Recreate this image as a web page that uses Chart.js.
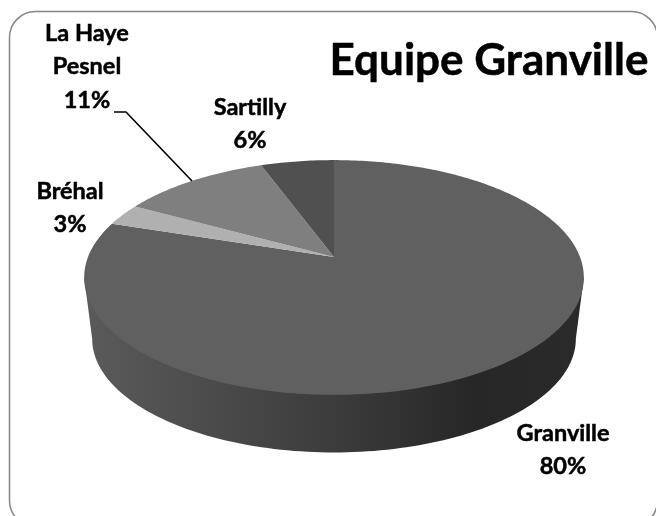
<!DOCTYPE html>
<html>
<head>
<meta charset="utf-8">
<style>
  html, body { margin: 0; padding: 0; background: #fff; overflow: hidden; }
  #wrap { width: 656px; height: 516px; position: relative; }
</style>
<script src="https://cdn.jsdelivr.net/npm/chart.js@4/dist/chart.umd.min.js"></script>
</head>
<body>
<div id="wrap"><canvas id="chart" width="656" height="516"></canvas></div>
<script>
var titleText = 'Equipe Granville';
var categories = ['Granville', 'Bréhal', 'La Haye Pesnel', 'Sartilly'];
var values = [80, 3, 11.4, 5.6];
var sliceColors = ['#606060', '#b0b0b0', '#7f7f7f', '#505050'];

// label lines and where they sit, same order as categories
var labelLines = [['Granville'], ['Bréhal'], ['La Haye', 'Pesnel'], ['Sartilly']];
var labelAnchors = [[563, 433], [70, 191], [87, 33], [250, 107]];

var FONT = 'Lato, Carlito, sans-serif';
var TILT = 0.4626;        // vertical squash of the disc
var PERSP = -0.1745;      // perspective, front of the disc is closer
var DEPTH_DY = 62;        // lower face offset
var DEPTH_SCALE = 0.968;  // lower face is a bit further away

// circle -> screen, v runs down the screen
function project(arc, u, v, dy, s) {
    var d = 1 + PERSP * v;
    return {
        x: arc.x + s * arc.outerRadius * u / d,
        y: arc.y + dy + s * arc.outerRadius * TILT * v / d
    };
}

function drawSide(ctx, arc) {
    var a0 = Math.acos(-PERSP);
    var grad = ctx.createLinearGradient(arc.x - arc.outerRadius, 0, arc.x + arc.outerRadius, 0);
    grad.addColorStop(0, '#5a5a5a');
    grad.addColorStop(0.5, '#3c3c3c');
    grad.addColorStop(0.78, '#272727');
    grad.addColorStop(1, '#2a2a2a');
    ctx.beginPath();
    var i, t, p;
    for (i = 0; i <= 120; i++) {
        // right tangent round the front to the left tangent
        t = -a0 + (2 * a0) * i / 120;
        p = project(arc, -Math.sin(t), Math.cos(t), DEPTH_DY, DEPTH_SCALE);
        if (i === 0) ctx.moveTo(p.x, p.y); else ctx.lineTo(p.x, p.y);
    }
    // up to the top face tangents, the chord between them ends up under the top face
    p = project(arc, -Math.sin(a0), Math.cos(a0), 0, 1);
    ctx.lineTo(p.x, p.y);
    p = project(arc, Math.sin(a0), Math.cos(a0), 0, 1);
    ctx.lineTo(p.x, p.y);
    ctx.closePath();
    ctx.fillStyle = grad;
    ctx.fill();
}

function drawSlice(ctx, arc, color) {
    var steps = Math.max(4, Math.ceil((arc.endAngle - arc.startAngle) * 60));
    ctx.beginPath();
    ctx.moveTo(arc.x, arc.y);
    for (var i = 0; i <= steps; i++) {
        var t = arc.startAngle + (arc.endAngle - arc.startAngle) * i / steps;
        var p = project(arc, Math.cos(t), Math.sin(t), 0, 1);
        ctx.lineTo(p.x, p.y);
    }
    ctx.closePath();
    ctx.fillStyle = color;
    ctx.fill();
}

function boldText(ctx, text, x, y) {
    ctx.fillText(text, x, y);
    ctx.strokeText(text, x, y);
}

var pie3d = {
    id: 'pie3d',
    beforeDraw: function(chart) {
        var ctx = chart.ctx;
        ctx.save();
        ctx.beginPath();
        ctx.roundRect(9.5, 11.5, 648, 515, 26);
        ctx.strokeStyle = '#868686';
        ctx.lineWidth = 1.5;
        ctx.stroke();
        ctx.restore();
    },
    // the library has no tilted pie, so draw its arcs ourselves
    beforeDatasetsDraw: function(chart) {
        var ctx = chart.ctx;
        var arcs = chart.getDatasetMeta(0).data;
        ctx.save();
        drawSide(ctx, arcs[0]);
        arcs.forEach(function(arc, i) {
            drawSlice(ctx, arc, sliceColors[i]);
        });
        ctx.restore();
        return false;
    },
    afterDraw: function(chart) {
        var ctx = chart.ctx;
        ctx.save();

        // leader for La Haye Pesnel
        ctx.beginPath();
        ctx.moveTo(114, 112);
        ctx.lineTo(126, 112);
        ctx.lineTo(192, 181);
        ctx.strokeStyle = '#000';
        ctx.lineWidth = 1.6;
        ctx.stroke();

        ctx.fillStyle = '#000';
        ctx.lineWidth = 0.5;
        ctx.textAlign = 'center';
        ctx.textBaseline = 'middle';
        ctx.font = 'bold 44px ' + FONT;
        boldText(ctx, titleText, 489, 61);

        ctx.font = 'bold 23.5px ' + FONT;
        categories.forEach(function(c, i) {
            var lines = labelLines[i].concat(Math.round(values[i]) + '%');
            lines.forEach(function(line, j) {
                boldText(ctx, line, labelAnchors[i][0], labelAnchors[i][1] + j * 33.5);
            });
        });
        ctx.restore();
    }
};

var ctx = document.getElementById('chart').getContext('2d');
new Chart(ctx, {
    type: 'pie',
    data: {
        labels: categories,
        datasets: [{data: values, backgroundColor: sliceColors, borderWidth: 0}]
    },
    options: {
        responsive: false,
        animation: false,
        layout: {padding: {left: 88, right: 76, top: 11, bottom: 13}},
        plugins: {legend: {display: false}, tooltip: {enabled: false}}
    },
    plugins: [pie3d]
});
</script>
</body>
</html>
